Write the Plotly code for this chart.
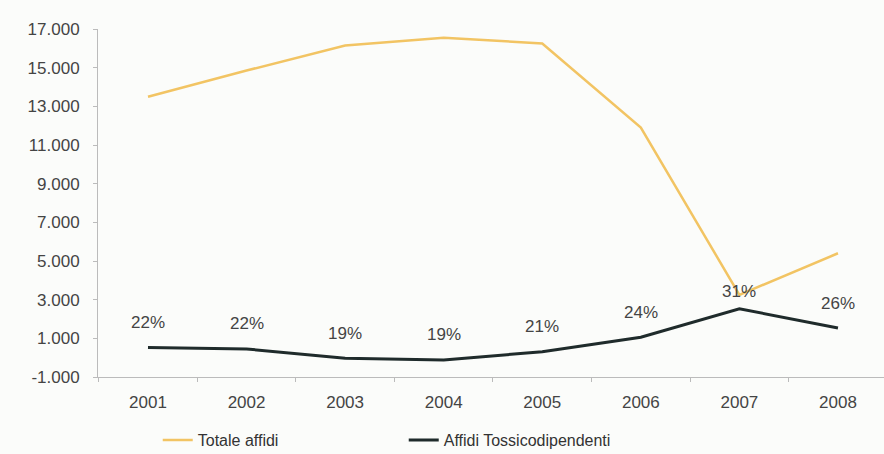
import plotly.graph_objects as go

years = ["2001", "2002", "2003", "2004", "2005", "2006", "2007", "2008"]
totale_affidi = [13500, 14850, 16150, 16550, 16250, 11900, 3250, 5400]
affidi_tossico = [520, 450, -30, -120, 310, 1060, 2530, 1530]
pct_labels = ["22%", "22%", "19%", "19%", "21%", "24%", "31%", "26%"]
label_shift = [25, 25, 25, 25, 25, 25, 17, 25]

y_ticks = [-1000, 1000, 3000, 5000, 7000, 9000, 11000, 13000, 15000, 17000]
y_ticktext = ["-1.000", "1.000", "3.000", "5.000", "7.000", "9.000",
              "11.000", "13.000", "15.000", "17.000"]

FONT = "Liberation Sans, Arial, sans-serif"
TXT = "#444444"

fig = go.Figure()
fig.add_trace(go.Scatter(
    x=years, y=totale_affidi, mode="lines", name="Totale affidi",
    line=dict(color="#F2C463", width=2.5)))
fig.add_trace(go.Scatter(
    x=years, y=affidi_tossico, mode="lines", name="Affidi Tossicodipendenti",
    line=dict(color="#1F2B2B", width=3)))

for i, (v, t, s) in enumerate(zip(affidi_tossico, pct_labels, label_shift)):
    fig.add_annotation(x=i, y=v, xref="x", yref="y", text=t, showarrow=False,
                       yshift=s, font=dict(family=FONT, size=17, color=TXT))

fig.update_layout(
    width=884, height=454,
    margin=dict(l=98, r=0, t=29, b=77, autoexpand=False),
    paper_bgcolor="#FBFCFA", plot_bgcolor="#FBFCFA",
    font=dict(family=FONT, size=17, color=TXT),
    showlegend=True,
    legend=dict(orientation="h", x=0.076, xanchor="left", y=-0.181, yanchor="middle",
                entrywidth=201, entrywidthmode="pixels",
                font=dict(family=FONT, size=16, color="#333333"),
                bgcolor="rgba(0,0,0,0)"),
)
fig.update_xaxes(
    type="category", range=[-0.507, 7.467], automargin=False,
    showline=True, linecolor="#BBBBBB", linewidth=1,
    ticks="outside", tickson="boundaries", ticklen=4, tickcolor="#BBBBBB",
    ticklabelstandoff=10,
    showgrid=False, zeroline=False,
    tickfont=dict(family=FONT, size=17, color=TXT),
)
fig.update_yaxes(
    range=[-1000, 17000], tickvals=y_ticks, ticktext=y_ticktext, automargin=False,
    showline=True, linecolor="#BBBBBB", linewidth=1,
    ticks="outside", ticklen=4, tickcolor="#BBBBBB",
    ticklabelstandoff=10,
    showgrid=False, zeroline=False,
    tickfont=dict(family=FONT, size=17, color=TXT),
)

fig.write_html("out.html")
